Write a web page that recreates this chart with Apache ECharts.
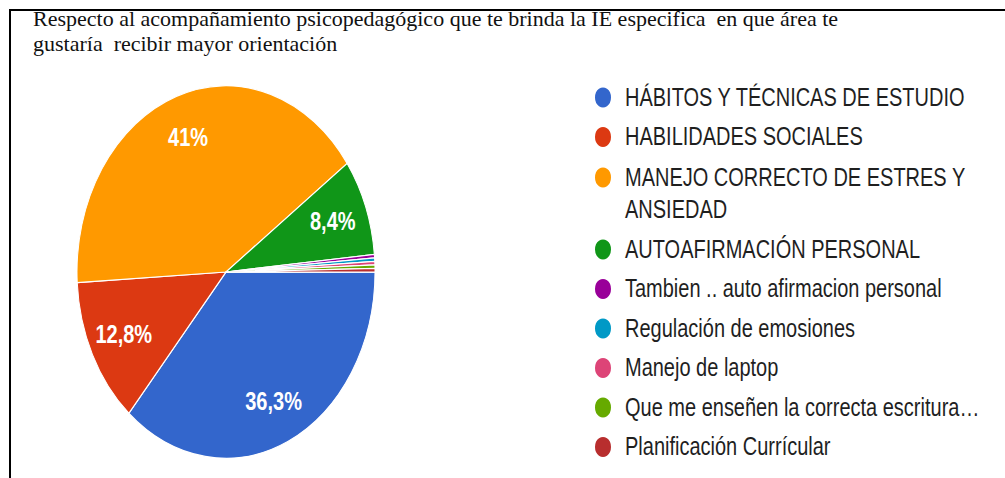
<!DOCTYPE html>
<html>
<head>
<meta charset="utf-8">
<script src="https://cdn.jsdelivr.net/npm/echarts@6/dist/echarts.min.js"></script>
<style>
  html, body { margin: 0; padding: 0; background: #fff; }
  #wrap { position: relative; width: 1005px; height: 478px; overflow: hidden; }
  /* the pie in the source is stretched vertically, so draw flat and stretch */
  #chart { position: absolute; left: 0; top: 0; width: 1005px; height: 383px;
           transform: scaleY(1.25); transform-origin: 0 0; }
  #frame { position: absolute; left: 0; top: 0; width: 1005px; height: 478px; }
</style>
</head>
<body>
<div id="wrap">
  <div id="chart"></div>
  <div id="frame"></div>
</div>
<script>
const titleLines = [
    'Respecto al acompañamiento psicopedagógico que te brinda la IE especifica  en que área te',
    'gustaría  recibir mayor orientación'
];

const categories = [
    'HÁBITOS Y TÉCNICAS DE ESTUDIO',
    'HABILIDADES SOCIALES',
    'MANEJO CORRECTO DE ESTRES Y ANSIEDAD',
    'AUTOAFIRMACIÓN PERSONAL',
    'Tambien .. auto afirmacion personal',
    'Regulación de emosiones',
    'Manejo de laptop',
    'Que me enseñen la correcta escritura…',
    'Planificación Currícular'
];
const shares = [36.3, 12.8, 41, 8.4, 0.3, 0.3, 0.3, 0.3, 0.3];
const colors = ['#3366cc', '#dc3912', '#ff9900', '#109618', '#990099',
                '#0099c6', '#dd4477', '#66aa00', '#b82e2e'];

const pieData = categories.map((name, i) => ({ name: name, value: shares[i] }));

function pctText(p) {
    return String(Math.round(p * 10) / 10).replace('.', ',') + '%';
}

const legendText = {
    fontFamily: 'Liberation Sans, Arial, sans-serif',
    fontSize: 20,
    color: '#1f1f1f',
    lineHeight: 26,
    padding: [0, 0, 0, 8]
};

let chart = echarts.init(document.getElementById('chart'), null, { renderer: 'svg' });
chart.setOption({
    color: colors,
    animation: false,
    legend: [
        {
            orient: 'vertical',
            left: 593,
            top: 65,
            padding: 0,
            itemGap: 5.6,
            itemWidth: 18,
            itemHeight: 18,
            icon: 'circle',
            selectedMode: false,
            textStyle: legendText,
            data: categories.slice(0, 2)
        },
        {
            orient: 'vertical',
            left: 593,
            top: 103,
            padding: 0,
            itemGap: 5.6,
            itemWidth: 18,
            itemHeight: 18,
            icon: 'circle',
            selectedMode: false,
            textStyle: legendText,
            // wrapped entry: blank first line keeps the marker on the first text line
            formatter: function (name) {
                return name.indexOf('ESTRES Y ') >= 0
                    ? '\n' + name.replace('ESTRES Y ', 'ESTRES Y\n')
                    : name;
            },
            data: categories.slice(2)
        }
    ],
    series: [
        {
            type: 'pie',
            center: [226, 217.6],
            radius: [0, 149],
            startAngle: 0,
            clockwise: true,
            avoidLabelOverlap: false,
            itemStyle: { borderColor: '#fff', borderWidth: 1 },
            label: { show: false },
            labelLine: { show: false },
            emphasis: { disabled: true },
            data: pieData
        },
        {
            // label ring only, puts the percentages at about 3/4 radius
            type: 'pie',
            silent: true,
            center: [226, 217.6],
            radius: [73, 149],
            startAngle: 0,
            clockwise: true,
            avoidLabelOverlap: false,
            itemStyle: { color: 'rgba(0,0,0,0)', borderWidth: 0 },
            label: {
                show: true,
                position: 'inside',
                color: '#fff',
                fontFamily: 'Liberation Sans, Arial, sans-serif',
                fontSize: 20,
                fontWeight: 'bold',
                formatter: function (p) {
                    return p.percent >= 1 ? pctText(p.percent) : '';
                }
            },
            labelLine: { show: false },
            emphasis: { disabled: true },
            data: pieData
        }
    ]
});

const titleStyle = {
    fontFamily: 'Liberation Serif, Times New Roman, serif',
    fontSize: 22,
    fontWeight: 'normal',
    color: '#111',
    lineHeight: 22
};

let frame = echarts.init(document.getElementById('frame'), null, { renderer: 'svg' });
frame.setOption({
    title: titleLines.map((t, i) => ({
        text: t,
        left: 33,
        top: 7 + i * 25,
        padding: 0,
        textStyle: titleStyle
    })),
    graphic: [
        { type: 'line', shape: { x1: 9, y1: 10, x2: 1005, y2: 10 }, style: { stroke: '#000', lineWidth: 2 } },
        { type: 'line', shape: { x1: 10, y1: 9, x2: 10, y2: 478 }, style: { stroke: '#000', lineWidth: 2 } }
    ]
});
</script>
</body>
</html>
